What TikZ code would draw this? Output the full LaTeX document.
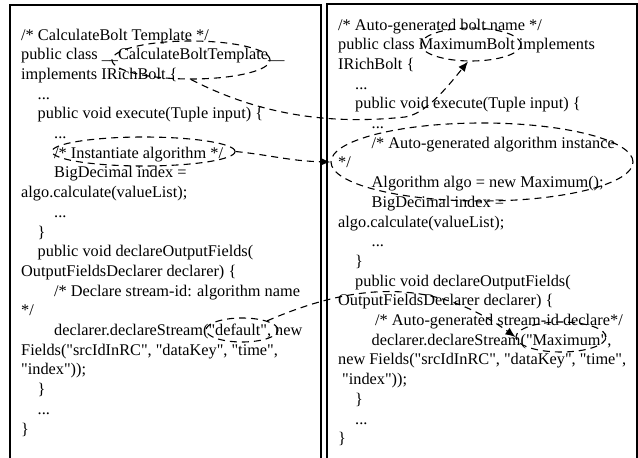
\documentclass[tikz,border=0pt]{standalone}
\usepackage{fontspec}
\setmainfont{Liberation Serif}[Ligatures=TeXOff]
\usetikzlibrary{shapes.geometric,arrows.meta}
\newcommand{\myL}[3]{\node[codetext] (L#1) at ({#2},{40+19.7*#1}) {#3};}
\newcommand{\myR}[3]{\node[codetext] (R#1) at ({#2},{30+19.7*#1}) {#3};}
\begin{document}
\begin{tikzpicture}[x=1pt,y=-1pt,
  codetext/.style={anchor=base west, inner sep=0pt, font=\fontsize{16.3}{19.7}\selectfont},
  boxline/.style={line width=1.3pt},
  dashring/.style={draw, ellipse, dash pattern=on 7pt off 5pt, line width=1.1pt, inner sep=0pt},
  linkline/.style={dash pattern=on 7pt off 5pt, line width=1.1pt, -{Latex[length=10pt,width=8pt]}}]
\useasboundingbox (0,0) rectangle (638,458);
\fill[white] (0,0) rectangle (638,458);
% boxes
\draw[boxline] (10,470) -- (10,5) -- (321,5) -- (321,470);
\draw[boxline] (327,470) -- (327,4) -- (637,4) -- (637,470);
% left text
\def\a{21}\def\b{37.5}\def\c{54}
\myL{0}{\a}{/* CalculateBolt Template */}
\myL{1}{\a}{public class \_\_CalculateBoltTemplate\_\_}
\myL{2}{\a}{implements IRichBolt \{}
\myL{3}{\b}{...}
\myL{4}{\b}{public void execute(Tuple input) \{}
\myL{5}{\c}{...}
\myL{6}{\c}{/* Instantiate algorithm */}
\myL{7}{\c}{BigDecimal index =}
\myL{8}{\a}{algo.calculate(valueList);}
\myL{9}{\c}{...}
\myL{10}{\b}{\}}
\myL{11}{\b}{public void declareOutputFields(}
\myL{12}{\a}{OutputFieldsDeclarer declarer) \{}
\myL{13}{\c}{/* Declare stream-id: algorithm name}
\myL{14}{\a}{*/}
\myL{15}{\c}{declarer.declareStream("default", new}
\myL{16}{\a}{Fields("srcIdInRC", "dataKey", "time",}
\myL{17}{\a}{"index"));}
\myL{18}{\b}{\}}
\myL{19}{\b}{...}
\myL{20}{\a}{\}}
% right text
\def\d{338}\def\e{355}\def\f{371.5}
\myR{0}{\d}{/* Auto-generated bolt name */}
\myR{1}{\d}{public class MaximumBolt implements}
\myR{2}{\d}{IRichBolt \{}
\myR{3}{\e}{...}
\myR{4}{\e}{public void execute(Tuple input) \{}
\myR{5}{\f}{...}
\myR{6}{\f}{/* Auto-generated algorithm instance}
\myR{7}{\d}{*/}
\myR{8}{\f}{Algorithm algo = new Maximum();}
\myR{9}{\f}{BigDecimal index =}
\myR{10}{\d}{algo.calculate(valueList);}
\myR{11}{\f}{...}
\myR{12}{\e}{\}}
\myR{13}{\e}{public void declareOutputFields(}
\myR{14}{\d}{OutputFieldsDeclarer declarer) \{}
\myR{15}{375}{/* Auto-generated stream-id declare*/}
\myR{16}{\f}{declarer.declareStream("Maximum",}
\myR{17}{\d}{new Fields("srcIdInRC", "dataKey", "time",}
\myR{18}{342}{"index"));}
\myR{19}{\e}{\}}
\myR{20}{\e}{...}
\myR{21}{\d}{\}}
% dashed ellipses
\node[dashring, minimum width=158pt, minimum height=38pt] (e1) at (191,60) {};
\node[dashring, minimum width=100pt, minimum height=33pt] (e2) at (471,44.5) {};
\node[dashring, minimum width=183pt, minimum height=29pt] (e3) at (143.5,151.5) {};
\node[dashring, minimum width=302pt, minimum height=78pt] (e4) at (482,162) {};
\node[dashring, minimum width=72pt, minimum height=24pt] (e5) at (242,330) {};
\node[dashring, minimum width=90pt, minimum height=30pt] (e6) at (561,337) {};
% connectors
\draw[linkline] (e1.south) .. controls (260,115) and (330,125) .. (405,117)
  .. controls (425,114) and (445,90) .. (e2.-100);
\draw[linkline] (e3.east) .. controls (270,155) and (290,161) .. (e4.west);
\draw[linkline] (e5.20) .. controls (350,285) and (430,275) .. (e6.west);
\end{tikzpicture}
\end{document}
